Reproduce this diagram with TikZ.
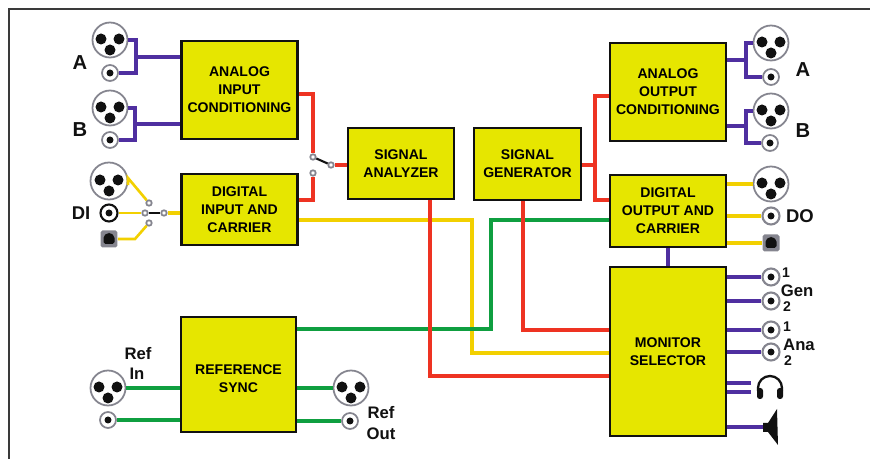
\documentclass[tikz,border=0pt]{standalone}
\usepackage{fontspec}
\setmainfont{Liberation Sans}
\usetikzlibrary{arrows.meta,positioning,calc}
\definecolor{ink}{HTML}{111111}
\definecolor{frame1}{HTML}{3A3A3A}
\definecolor{ring1}{HTML}{85858F}
\definecolor{box1}{HTML}{E6E600}
\definecolor{purple1}{HTML}{4F2FA0}
\definecolor{red1}{HTML}{EE3322}
\definecolor{yellow1}{HTML}{F2D000}
\definecolor{green1}{HTML}{0F9F40}
\tikzset{
  box/.style={draw=ink,fill=box1,line width=1.6pt,align=center,inner sep=0pt,
    font=\fontsize{8}{10.3}\selectfont\bfseries},
  wire/.style={line width=2pt,line join=miter},
  lbl/.style={inner sep=0pt,text=ink,font=\fontsize{9.5}{11}\selectfont\bfseries},
  biglbl/.style={lbl,font=\fontsize{11.5}{13}\selectfont\bfseries},
  xlr/.style={circle,draw=ring1,fill=white,line width=1pt,minimum size=0.7cm,inner sep=0pt,
    path picture={
      \fill[ink] ($(path picture bounding box.center)+(-9,-1)$) circle (5.5);
      \fill[ink] ($(path picture bounding box.center)+(9,-1)$) circle (5.5);
      \fill[ink] ($(path picture bounding box.center)+(0,10)$) circle (5.5);}},
  jack/.style={circle,draw=ring1,fill=white,line width=1pt,minimum size=0.32cm,inner sep=0pt,
    path picture={\fill[ink] (path picture bounding box.center) circle (3.5);}},
  bnc/.style={jack,draw=ink,line width=1.2pt,minimum size=0.34cm},
  rj/.style={rectangle,rounded corners=1pt,fill=ring1,minimum size=0.34cm,inner sep=0pt,
    path picture={\fill[ink] ($(path picture bounding box.center)+(-5.5,-3)$) -- ++(4,-3) -- ++(3,0) -- ++(4,3) -- ++(0,8) -- ++(-11,0) -- cycle;}},
  contact/.style={circle,draw=ring1,fill=white,line width=1pt,minimum size=0.11cm,inner sep=0pt},
}
\begin{document}
\begin{tikzpicture}[x=0.02cm,y=-0.02cm]
  \useasboundingbox (0,0) rectangle (870,459);
  % outer frame, open at the bottom and on the right
  \draw[frame1,line width=1.5pt] (9,459) -- (9,9) -- (870,9);

  % main blocks
  \node[box,minimum width=2.32cm,minimum height=1.96cm] (anain) at (239.5,90) {ANALOG\\INPUT\\CONDITIONING};
  \node[box,minimum width=2.32cm,minimum height=1.42cm] (digin) at (239.5,209.5) {DIGITAL\\INPUT AND\\CARRIER};
  \node[box,minimum width=2.12cm,minimum height=1.42cm] (analyzer) at (401,163.5) {SIGNAL\\ANALYZER};
  \node[box,minimum width=2.14cm,minimum height=1.44cm] (generator) at (527.5,164) {SIGNAL\\GENERATOR};
  \node[box,minimum width=2.32cm,minimum height=1.96cm] (anaout) at (668,92) {ANALOG\\OUTPUT\\CONDITIONING};
  \node[box,minimum width=2.32cm,minimum height=1.44cm] (digout) at (668,211) {DIGITAL\\OUTPUT AND\\CARRIER};
  \node[box,minimum width=2.32cm,minimum height=3.38cm] (monitor) at (668,351.5) {MONITOR\\SELECTOR};
  \node[box,minimum width=2.30cm,minimum height=2.30cm] (refsync) at (238.5,374.5) {\\[-0.4pt]REFERENCE\\SYNC};

  % connectors, left side
  \node[xlr] (xlrAi) at (110,40) {};
  \node[jack] (jackAi) at (110,73) {};
  \node[xlr] (xlrBi) at (110,108) {};
  \node[jack] (jackBi) at (110,140) {};
  \node[xlr,minimum size=0.74cm] (xlrDi) at (109,181) {};
  \node[bnc] (bncDi) at (109,213) {};
  \node[rj] (rjDi) at (109,239) {};
  \node[xlr] (xlrRi) at (108,388) {};
  \node[jack] (jackRi) at (108,420) {};
  \node[xlr] (xlrRo) at (351,388) {};
  \node[jack] (jackRo) at (350,421) {};

  % connectors, right side
  \node[xlr] (xlrAo) at (771,43) {};
  \node[jack] (jackAo) at (771,77) {};
  \node[xlr] (xlrBo) at (771,111) {};
  \node[jack] (jackBo) at (770,143) {};
  \node[xlr] (xlrDo) at (771,184) {};
  \node[bnc,draw=ring1] (bncDo) at (771,216) {};
  \node[rj] (rjDo) at (771,243) {};
  \node[bnc,draw=ring1] (gen1) at (771,277) {};
  \node[bnc,draw=ring1] (gen2) at (771,301) {};
  \node[bnc,draw=ring1] (ana1) at (771,330) {};
  \node[bnc,draw=ring1] (ana2) at (771,352) {};

  % switches
  \node[contact] (swA1) at (313,157) {};
  \node[contact] (swA2) at (313,173) {};
  \node[contact] (swApole) at (331,165) {};
  \node[contact] (swD1) at (149,203) {};
  \node[contact] (swD2) at (145,213) {};
  \node[contact] (swD3) at (149,223) {};
  \node[contact] (swDpole) at (164,213) {};

  % junctions of the wires
  \coordinate (jAi) at (136,57);
  \coordinate (jBi) at (135,124);
  \coordinate (jAo) at (746,60);
  \coordinate (jBo) at (746,126);
  \coordinate (jRedA) at (313,94);
  \coordinate (jRedD) at (313,200);
  \coordinate (jGen) at (595,165);
  \coordinate (jOutA) at (595,96);
  \coordinate (jOutD) at (595,200);
  \coordinate (jYel) at (472,220);
  \coordinate (jYel2) at (472,353);
  \coordinate (jGrn) at (491,329);
  \coordinate (jGrn2) at (491,220);
  \coordinate (jRedAn) at (430,376);
  \coordinate (jRedGe) at (523,330);
  \coordinate (phones) at (770,388);
  \coordinate (phonesA) at (751,383);
  \coordinate (phonesB) at (751,392);
  \coordinate (speaker) at (765,427);
  \coordinate (jX) at (128,178);
  \coordinate (jX2) at (135,239);

  % purple wires
  \draw[wire,purple1] (xlrAi.east) -| (jAi) |- (jackAi.east);
  \draw[wire,purple1] (jAi) -- (jAi -| anain.west);
  \draw[wire,purple1] (xlrBi.east) -| (jBi) |- (jackBi.east);
  \draw[wire,purple1] (jBi) -- (jBi -| anain.west);
  \draw[wire,purple1] (xlrAo.west) -| (jAo) |- (jackAo.west);
  \draw[wire,purple1] (jAo) -- (jAo -| anaout.east);
  \draw[wire,purple1] (xlrBo.west) -| (jBo) |- (jackBo.west);
  \draw[wire,purple1] (jBo) -- (jBo -| anaout.east);
  \draw[wire,purple1] (digout.south) -- (monitor.north);
  \foreach \n in {gen1,gen2,ana1,ana2} \draw[wire,purple1] (\n.west) -- (\n.west -| monitor.east);
  \draw[wire,purple1] (phonesA) -- (phonesA -| monitor.east);
  \draw[wire,purple1] (phonesB) -- (phonesB -| monitor.east);
  \draw[wire,purple1] (speaker) -- (speaker -| monitor.east);

  % yellow wires
  \draw[wire,yellow1,line width=1.5pt] (xlrDi.-12) -- (jX) -- (swD1);
  \draw[wire,yellow1,line width=1.5pt] (bncDi.east) -- (swD2);
  \draw[wire,yellow1,line width=1.5pt] (rjDi.east) -- (jX2) -- (swD3);
  \draw[wire,yellow1] (swDpole) -- (swDpole -| digin.west);
  \draw[wire,yellow1] (jYel -| digin.east) -- (jYel) -- (jYel2) -- (jYel2 -| monitor.west);
  \draw[wire,yellow1] (xlrDo.west) -- (xlrDo.west -| digout.east);
  \draw[wire,yellow1] (bncDo.west) -- (bncDo.west -| digout.east);
  \draw[wire,yellow1] (rjDo.west) -- (rjDo.west -| digout.east);

  % green wires
  \draw[wire,green1] (jGrn -| refsync.east) -- (jGrn) -- (jGrn2) -- (jGrn2 -| digout.west);
  \draw[wire,green1] (xlrRi.east) -- (xlrRi.east -| refsync.west);
  \draw[wire,green1] (jackRi.east) -- (jackRi.east -| refsync.west);
  \draw[wire,green1] (xlrRo.west) -- (xlrRo.west -| refsync.east);
  \draw[wire,green1] (jackRo.west) -- (jackRo.west -| refsync.east);

  % red wires
  \draw[wire,red1] (jRedA -| anain.east) -- (jRedA) -- (swA1);
  \draw[wire,red1] (jRedD -| digin.east) -- (jRedD) -- (swA2);
  \draw[wire,red1] (swApole) -- (swApole -| analyzer.west);
  \draw[wire,red1] (jGen -| generator.east) -- (jGen);
  \draw[wire,red1] (jOutA -| anaout.west) -- (jOutA) -- (jOutD) -- (jOutD -| digout.west);
  \draw[wire,red1] (jRedAn |- analyzer.south) -- (jRedAn) -- (jRedAn -| monitor.west);
  \draw[wire,red1] (jRedGe |- generator.south) -- (jRedGe) -- (jRedGe -| monitor.west);

  % switch levers
  \draw[ink,line width=1.2pt] (swA1) -- (swApole);
  \draw[ink,line width=1.2pt] (swD2) -- (swDpole);

  % headphones and speaker
  \draw[ink,line width=1.3pt] ($(phones)+(-12,3)$) -- ($(phones)+(-12,0)$) arc[start angle=180,end angle=360,radius=12] -- ($(phones)+(12,3)$);
  \fill[ink,rounded corners=1.5pt] ($(phones)+(-13,0)$) rectangle ($(phones)+(-7,11)$);
  \fill[ink,rounded corners=1.5pt] ($(phones)+(7,0)$) rectangle ($(phones)+(13,11)$);
  \fill[ink] ($(speaker)+(-2,-4)$) -- ($(speaker)+(3,-4)$) -- ($(speaker)+(12,-18)$) -- ($(speaker)+(13,18)$) -- ($(speaker)+(3,5)$) -- ($(speaker)+(-2,5)$) -- cycle;

  % labels
  \node[biglbl] (lblAi) at (80,63) {A};
  \node[biglbl] (lblBi) at (80,130) {B};
  \node[biglbl,font=\fontsize{10.5}{12}\selectfont\bfseries] (lblDi) at (81,213) {DI};
  \node[biglbl] (lblAo) at (803,70) {A};
  \node[biglbl] (lblBo) at (803,131) {B};
  \node[biglbl,font=\fontsize{10.5}{12}\selectfont\bfseries] (lblDo) at (800,216) {DO};
  \node[lbl] (lblRi) at (138,354) {Ref};
  \node[lbl] (lblRi2) at (137,374) {In};
  \node[lbl] (lblRo) at (381,413) {Ref};
  \node[lbl] (lblRo2) at (381,434) {Out};
  \node[lbl] (lblGen) at (797,291) {Gen};
  \node[lbl,font=\fontsize{8}{9}\selectfont\bfseries] (lblG1) at (786,273) {1};
  \node[lbl,font=\fontsize{8}{9}\selectfont\bfseries] (lblG2) at (787,307) {2};
  \node[lbl] (lblAna) at (799,345) {Ana};
  \node[lbl,font=\fontsize{8}{9}\selectfont\bfseries] (lblA1) at (787,327) {1};
  \node[lbl,font=\fontsize{8}{9}\selectfont\bfseries] (lblA2) at (788,361) {2};
\end{tikzpicture}
\end{document}
